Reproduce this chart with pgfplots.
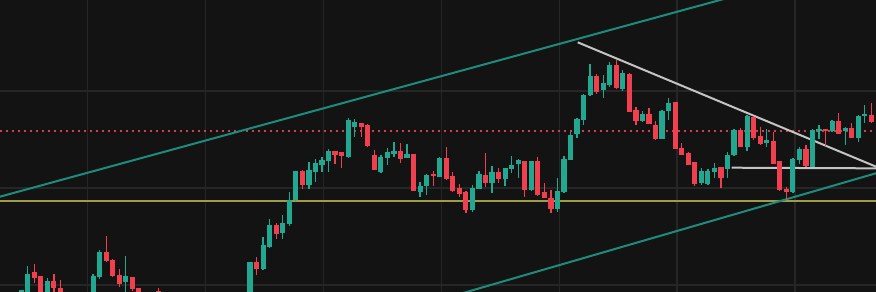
\documentclass[border=0pt]{standalone}
\usepackage{pgfplots}
\usepackage{pgfplotstable}
\pgfplotsset{compat=1.18}
\definecolor{bg}{HTML}{131313}
\definecolor{gridc}{HTML}{262626}
\definecolor{up}{HTML}{22A891}
\definecolor{dn}{HTML}{F0404F}
\definecolor{chan}{HTML}{1E8C7C}
\definecolor{yel}{HTML}{A09D48}
\definecolor{dotc}{HTML}{D2404C}
\definecolor{wht}{HTML}{C4C4C4}

% candle index, body top, body bottom, wick top, wick bottom (chart units, top = 0)
\pgfplotstableread{
i bt bb wt wb
-1 290.5 300 290 302
0 274 300 265.7 302
3 281.7 300 278 302
10 276 300 274 302
11 252.3 276.7 250 279
15 276.7 282 255.7 295
34 262.3 300 262 302
36 245.7 269 237.3 270
37 225 246.7 219 247.5
39 223.3 232.7 215 239.3
40 200 224 191.7 226
41 171.7 200 170.7 201
43 170 185 161.7 189.3
44 163.3 171.7 159.3 181.7
45 160 164.3 157.3 171.7
46 151.7 161 149.3 171.7
49 120.7 156.7 118.3 157.5
50 122.7 126.7 119.3 136.7
54 157.3 171.7 155 173.3
55 152.7 157.3 148.3 165
56 151.7 153.3 141.7 156.7
58 154 157.3 144 157.3
60 186 191.7 181.7 196.7
61 175 186 174 195
63 158.3 176.7 157.3 177.3
68 188.3 210 185 211.7
69 174 188.3 170.7 189.3
71 172 182.7 166 192.7
73 168.3 179 168.3 185.5
74 165 169 156 172.7
75 160.7 164 159.3 178.3
77 161.7 190 161 190.5
81 191.7 208.3 178.3 211.7
82 159.3 191.7 156 192.7
83 135 159.3 131.7 160
84 119.3 134 118.3 138.3
85 95 120 94 125
86 76.7 95 64 96
88 83.3 89.3 75 98.3
89 65 85 62.3 86.5
91 73.3 88.3 70 91
94 114.3 121 111 121.7
97 111 138.3 110 139
98 103.3 111 97.7 120
103 171.7 182.7 168.3 185
104 171.7 183.3 169.3 184.5
105 168.3 171.7 163.3 177.7
107 155 168.3 151.7 177.7
108 130 155 129 156
110 116.7 146.7 115 150.7
113 140.7 142.7 129.3 147.3
117 159.3 191.7 158.3 192.7
118 149.3 160 146.7 164
120 130 166.7 129.3 167.3
121 129 130.7 125 139.3
123 121.7 130.7 120 131.7
125 128.3 130.7 127.3 145
127 116 137.3 115 141.7
128 114 116 105 122.7
}\greentab

\pgfplotstableread{
i bt bb wt wb
1 272.7 278 264 283
2 276.7 296 276 298
4 281 288 274 293
5 288 300 280 302
12 252.3 260.7 235.7 262
13 260 275.7 259 277
14 275 284 269 287
16 277.3 289 277 291
17 288.3 300 288 302
20 291 300 288 302
35 262.3 268.3 257.3 275
38 225 233.3 222.7 239.3
42 171.7 185 170 189.3
47 151.7 155 150.7 164.3
48 152.3 156 151.7 168.3
51 123.3 126.7 123.3 136.7
52 125 145.7 124 146.5
53 155 169.3 150 170
57 151.7 158.3 142.7 162.7
59 154.3 190.7 154 191
62 174 176 171 186
64 158.3 178.3 146.7 180
65 176.7 190.7 171.7 191.7
66 188.3 193.3 184 197.3
67 192.7 210 190.7 213.3
70 175 182.7 153.3 186.7
72 172 179 168.3 183.3
76 161.7 190 161 196.7
78 161.7 195 157.3 195.5
79 192.7 197.3 182.7 198.3
80 198.3 208.3 190 213.3
87 76.7 91.7 74 94.3
90 65 87.7 60 88.5
92 74 111.7 73.3 112.3
93 110 121 106.7 125
95 114.3 123.3 108.3 124
96 125 138.3 121 140
99 102.3 148.3 101.7 149
100 148.3 154.3 143.3 155
101 153.3 164.3 151.7 165
102 162.3 183.3 161.7 185.7
106 167.7 177.7 166.7 187.7
109 130 146.7 128.3 147.3
111 117.3 137.3 116 140
112 136 143.3 127.3 145
114 141.7 163.3 131.7 164
115 161.7 189.3 160.7 190.7
116 189.3 191.7 186.7 200
119 149.3 166 145 167.3
122 129 130.7 129 146
124 121.7 133.3 112.7 134
126 128.3 137.3 123.3 138.3
129 115 121.7 103.3 123
}\redtab

\pgfplotsset{candle/.style n args={2}{only marks, mark=*, mark size=0pt,
  mark options={draw=none, fill=none},
  error bars/.cd, y dir=both, y explicit, error mark=none,
  error bar style={line width=#2, #1}}}

\begin{document}
\begin{tikzpicture}
\begin{axis}[name=ax,
  width=876pt, height=292pt, scale only axis,
  xmin=0, xmax=876, ymin=0, ymax=292, y dir=reverse,
  axis background/.style={fill=bg},
  axis line style={draw=none},
  tick style={draw=none},
  xtick={87.5,205.4,323.3,441.2,559.1,677,794.9},
  ytick={91,188,285},
  xticklabels={}, yticklabels={},
  grid=major,
  major grid style={draw=gridc, line width=1.2pt},
  clip=true,
]
% reference lines
\addplot[yel, line width=2pt] coordinates {(-5,201) (890,201)};
\addplot[dotc, line width=1.8pt, dash pattern=on 2pt off 4pt] coordinates {(0,131) (880,131)};
\addplot[chan, line width=2pt] coordinates {(-10,199.4) (730,-2.7)};
\addplot[chan, line width=2pt] coordinates {(460,293.9) (890,169.2)};
\addplot[wht, line width=2pt] coordinates {(577.7,42.3) (890,172.5)};
\addplot[wht, line width=2pt] coordinates {(731.7,167.7) (890,168.4)};

% wicks
\addplot[candle={up}{1.3pt}]
  table[x expr=27.7+6.54*\thisrow{i}, y expr=(\thisrow{wt}+\thisrow{wb})/2,
        y error expr=(\thisrow{wb}-\thisrow{wt})/2] {\greentab};
\addplot[candle={dn}{1.3pt}]
  table[x expr=27.7+6.54*\thisrow{i}, y expr=(\thisrow{wt}+\thisrow{wb})/2,
        y error expr=(\thisrow{wb}-\thisrow{wt})/2] {\redtab};
% bodies
\addplot[candle={up}{5.2pt}]
  table[x expr=27.7+6.54*\thisrow{i}, y expr=(\thisrow{bt}+\thisrow{bb})/2,
        y error expr=(\thisrow{bb}-\thisrow{bt})/2+0.4] {\greentab};
\addplot[candle={dn}{5.2pt}]
  table[x expr=27.7+6.54*\thisrow{i}, y expr=(\thisrow{bt}+\thisrow{bb})/2,
        y error expr=(\thisrow{bb}-\thisrow{bt})/2+0.4] {\redtab};
\end{axis}
\pgfresetboundingbox
\useasboundingbox (ax.south west) rectangle (ax.north east);
\end{tikzpicture}
\end{document}
